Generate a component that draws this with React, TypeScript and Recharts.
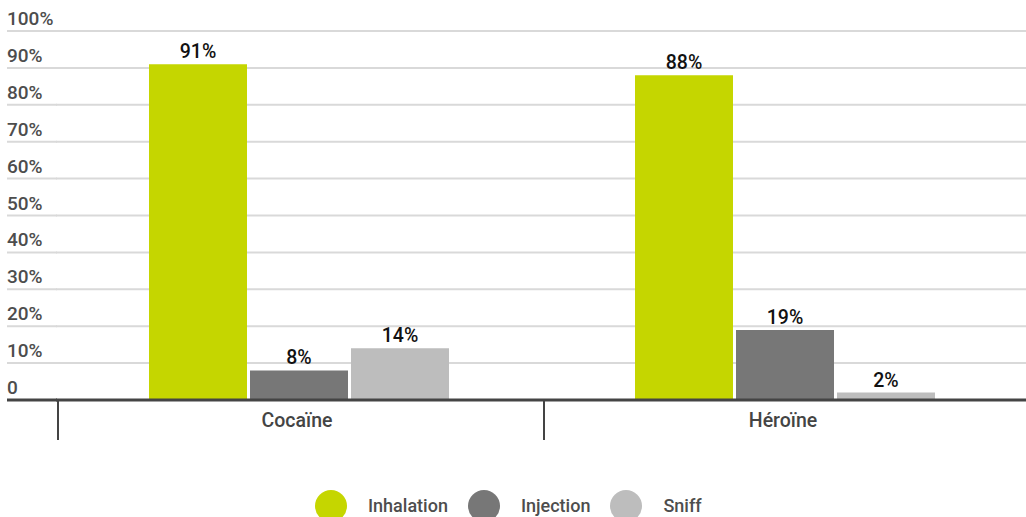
import React from 'react';
import { BarChart, Bar, XAxis, YAxis, CartesianGrid, Legend, LabelList } from 'recharts';

const categories = ['Cocaïne', 'Héroïne'];
const inhalation = [91, 88];
const injection = [8, 19];
const sniff = [14, 2];
const seriesNames = ['Inhalation', 'Injection', 'Sniff'];
const seriesColors = ['#c5d600', '#777777', '#bdbdbd'];
const yTicks = [0, 10, 20, 30, 40, 50, 60, 70, 80, 90, 100];

const data = categories.map((c, i) => ({
  name: c,
  Inhalation: inhalation[i],
  Injection: injection[i],
  Sniff: sniff[i],
}));

const CHART_W = 1028;
const CHART_H = 540;
const Y_AXIS_W = 56;
const MARGIN = { top: 31, right: 0, left: 0, bottom: 0 };
const PLOT_BOTTOM = 400;
const BAND = (CHART_W - Y_AXIS_W - MARGIN.right) / categories.length;
const FONT = 'Roboto, "Noto Sans", sans-serif';

const YTick = (props: any) => {
  const { y, payload } = props;
  const v = payload.value;
  return (
    <g>
      {v !== 0 && <line x1={7} x2={Y_AXIS_W + 1} y1={y} y2={y} stroke="#d9d9d9" strokeWidth={2} />}
      {v === 0 && <line x1={7} x2={Y_AXIS_W + 1} y1={y} y2={y} stroke="#444444" strokeWidth={3} />}
      <text x={7} y={y - 6} fill="#4d4d4d" fontSize={19} fontWeight={500} fontFamily={FONT} textAnchor="start">
        {v === 0 ? '0' : `${v}%`}
      </text>
    </g>
  );
};

const XTick = (props: any) => {
  const { x, payload } = props;
  const lx = x - BAND / 2 + 2;
  return (
    <g>
      <line x1={lx} x2={lx} y1={PLOT_BOTTOM + 1} y2={PLOT_BOTTOM + 40} stroke="#444444" strokeWidth={2} />
      <text x={x - 2} y={PLOT_BOTTOM + 26.5} fill="#444444" fontSize={19.5} fontWeight={500} fontFamily={FONT} textAnchor="middle">
        {payload.value}
      </text>
    </g>
  );
};

const renderLegend = () => (
  <div
    style={{
      height: 100,
      display: 'flex',
      alignItems: 'flex-start',
      paddingLeft: 315,
      boxSizing: 'border-box',
      fontFamily: FONT,
    }}
  >
    <div style={{ display: 'flex', alignItems: 'center', marginTop: 50 }}>
      {seriesNames.map((n, i) => (
        <div key={n} style={{ display: 'flex', alignItems: 'center', marginRight: 20 }}>
          <div style={{ width: 32, height: 32, borderRadius: 16, background: seriesColors[i], marginRight: 21 }} />
          <span style={{ fontSize: 18, fontWeight: 500, color: '#4d4d4d', lineHeight: '32px' }}>{n}</span>
        </div>
      ))}
    </div>
  </div>
);

export default function App() {
  return (
    <div style={{ position: 'fixed', left: 0, top: 0, width: 1026, height: 517, overflow: 'hidden', background: '#fff' }}>
      <BarChart
        width={CHART_W}
        height={CHART_H}
        data={data}
        margin={MARGIN}
        barCategoryGap={93}
        barGap={3}
      >
        <CartesianGrid vertical={false} stroke="#d9d9d9" strokeWidth={2} />
        <XAxis
          dataKey="name"
          height={40}
          axisLine={{ stroke: '#444444', strokeWidth: 3 }}
          tickLine={false}
          tick={<XTick />}
          interval={0}
        />
        <YAxis
          width={Y_AXIS_W}
          domain={[0, 100]}
          ticks={yTicks}
          axisLine={false}
          tickLine={false}
          tick={<YTick />}
          interval={0}
        />
        <Legend
          verticalAlign="bottom"
          content={renderLegend}
          wrapperStyle={{ left: 0, width: 1026 }}
        />
        {seriesNames.map((n, i) => (
          <Bar key={n} dataKey={n} fill={seriesColors[i]} isAnimationActive={false}>
            <LabelList
              dataKey={n}
              position="top"
              offset={6}
              formatter={(v: any) => `${v}%`}
              fill="#111111"
              fontSize={19.5}
              fontWeight={500}
              fontFamily={FONT}
            />
          </Bar>
        ))}
      </BarChart>
    </div>
  );
}
